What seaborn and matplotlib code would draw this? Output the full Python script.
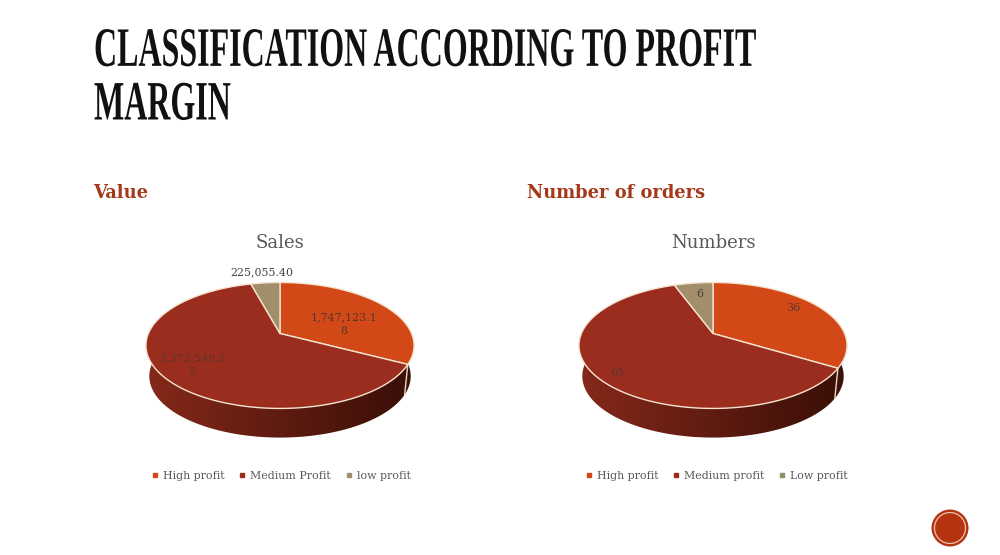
import numpy as np
import matplotlib
matplotlib.use("Agg")
import matplotlib.pyplot as plt
import seaborn as sns
from matplotlib.colors import LinearSegmentedColormap
from matplotlib.lines import Line2D
from matplotlib.patches import Circle, Polygon
from matplotlib.patheffects import AbstractPathEffect
from matplotlib.transforms import Affine2D, IdentityTransform

# ---- data ----
title_text = "CLASSIFICATION ACCORDING TO PROFIT\nMARGIN"
heading_left = "Value"
heading_right = "Number of orders"
sales_title = "Sales"
sales_values = [1747123.18, 3372549.25, 225055.40]
sales_text = ["1,747,123.1\n8", "3,372,549.2\n5", "225,055.40"]
sales_legend = ["High profit", "Medium Profit", "low profit"]
numbers_title = "Numbers"
numbers_values = [36, 65, 6]
numbers_text = ["36", "65", "6"]
numbers_legend = ["High profit", "Medium profit", "Low profit"]
colors = ["#D34817", "#9B2D1F", "#A28E6A"]
legend_colors_right = ["#D34817", "#9B2D1F", "#8F8F6A"]

sns.set_theme(style="white", rc={"font.family": "DejaVu Serif"})


class Condense(AbstractPathEffect):
    """Narrow and heighten a text line about its own baseline start (condensed face)."""
    def __init__(self, sx, sy):
        super().__init__()
        self.sx, self.sy = sx, sy

    def draw_path(self, renderer, gc, tpath, affine, rgbFace=None):
        x0, y0 = affine.transform_point((0, 0))
        shaped = affine + Affine2D().translate(-x0, -y0).scale(self.sx, self.sy).translate(x0, y0)
        renderer.draw_path(gc, tpath, shaped, rgbFace)


W, H = 1000, 555
fig = plt.figure(figsize=(W / 100, H / 100), dpi=100, facecolor="white")


def make_axes(x0, x1, y0=230, y1=490):
    ax = fig.add_axes([x0 / W, 1 - y1 / H, (x1 - x0) / W, (y1 - y0) / H])
    ax.set_xlim(x0, x1)
    ax.set_ylim(y1, y0)
    ax.set_axis_off()
    return ax


def pie3d(ax, cx, values, face):
    cy, a, b, k, s, dz = 333.5, 131.6, 60.7, 0.19, 0.975, 31.0

    def top(t):
        w = 1 + k * np.cos(t)
        return cx + a * np.sin(t) / w, cy - b * np.cos(t) / w

    def low(t):
        w = 1 + k * np.cos(t)
        return cx + s * a * np.sin(t) / w, cy + dz - s * b * np.cos(t) / w

    fr = np.cumsum([0] + list(values)) / np.sum(values)
    edges = fr * 2 * np.pi
    ramp = np.linspace(0, 1, 256)[None, :]
    ext = (cx - 136, cx + 136, cy + 110, cy - 10)

    def wall(t0, t1, c0, c1):
        tt = np.linspace(t0, t1, 160)
        xa, ya = top(tt)
        xb, yb = low(tt[::-1])
        cm = LinearSegmentedColormap.from_list("w", [c0, c1])
        im = ax.imshow(ramp, extent=ext, cmap=cm, aspect="auto", zorder=1, interpolation="bilinear")
        im.set_clip_path(Polygon(np.c_[np.r_[xa, xb], np.r_[ya, yb]], transform=ax.transData))

    wall(np.radians(78), edges[1], "#7A2A12", "#3A1208")
    wall(edges[1], np.radians(282), "#86291A", "#380E07")
    xs, ys = top(edges[1])
    xe, ye = low(edges[1])
    ax.plot([xs, xe], [ys, ye], color="#EBD7BE", lw=1.0, zorder=2)
    for i, col in enumerate(face):
        tt = np.linspace(edges[i], edges[i + 1], 120)
        px, py = top(tt)
        ax.fill(np.r_[cx, px], np.r_[cy, py], facecolor=col, edgecolor="#F3E3CF", lw=1.0, zorder=3)


def labels(ax, pos, texts, size=7.9):
    for (x, y), s, c in zip(pos, texts, ["#54382A", "#5E342C", "#45413A"]):
        ax.text(x, y, s, ha="center", va="center", fontsize=size, color=c,
                linespacing=1.5, zorder=5)


def legend(ax, names, cols, anchor, spacing):
    hs = [Line2D([], [], ls="", marker="s", ms=3.4, color=c) for c in cols]
    ax.legend(hs, names, loc="center", bbox_to_anchor=anchor,
              bbox_transform=ax.transData, ncols=3, frameon=False, fontsize=7.9,
              handlelength=0.5, handletextpad=0.5, columnspacing=spacing,
              labelcolor="#595959", borderpad=0, borderaxespad=0)


axL = make_axes(130, 430)
pie3d(axL, 280, sales_values, colors)
axL.set_xlim(130, 430)
axL.set_ylim(490, 230)
axL.set_title(sales_title, y=0.95, pad=0, va="center", fontsize=13, color="#595959")
labels(axL, [(344, 324.5), (192, 365.5), (262, 272)], sales_text)
legend(axL, sales_legend, colors, (281.5, 476), 1.35)

axR = make_axes(563, 863)
pie3d(axR, 713, numbers_values, colors)
axR.set_xlim(563, 863)
axR.set_ylim(490, 230)
axR.set_title(numbers_title, y=0.95, pad=0, va="center", fontsize=13, color="#595959")
labels(axR, [(793, 308), (617, 373), (700, 294)], numbers_text)
legend(axR, numbers_legend, legend_colors_right, (717, 476), 1.35)

# slide text
for x, s in [(93, heading_left), (527, heading_right)]:
    fig.text(x / W, 1 - 198 / H, s, fontsize=12.9, fontweight="bold", color="#A5391A",
             ha="left", va="baseline")

base_size = 27.0
ttl = fig.text(94 / W, 1 - 119.5 / H, title_text, family="Liberation Serif", fontweight="bold",
               fontsize=base_size, color="#111111", ha="left", va="baseline",
               linespacing=1.10 * 41.5 / base_size)
ext = ttl.get_window_extent(fig.canvas.get_renderer())
ttl.set_path_effects([Condense(663 / ext.width, 40.0 / base_size)])

# round slide-number badge
fig.add_artist(Circle((950, H - 528), 18.5, transform=IdentityTransform(), fc="#B5330E", ec="none"))
fig.add_artist(Circle((950, H - 528), 15.5, transform=IdentityTransform(), fc="none", ec="#EBC4AE", lw=0.9))

fig.savefig("out.png", dpi=100, facecolor="white")
